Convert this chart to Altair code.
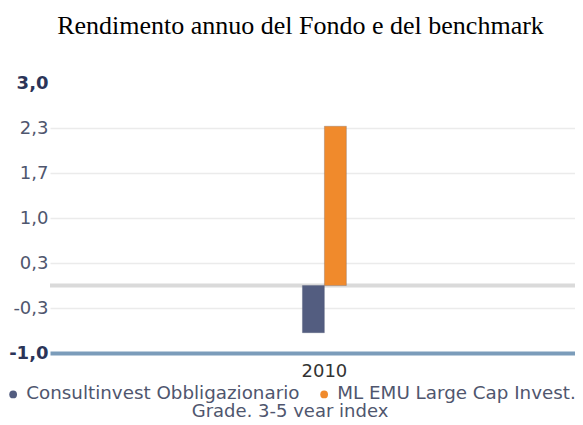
import altair as alt
import pandas as pd

# ---- data ----
years = ["2010"]
series = ["Consultinvest Obbligazionario", "ML EMU Large Cap Invest. Grade, 3-5 year index"]
values = [-0.70, 2.36]
colors = ["#535d80", "#f08a2c"]
y_ticks = [-1.0, -1 / 3, 1 / 3, 1.0, 5 / 3, 7 / 3, 3.0]
y_labels = ["-1,0", "-0,3", "0,3", "1,0", "1,7", "2,3", "3,0"]
title_text = "Rendimento annuo del Fondo e del benchmark"
legend_tail = "Grade, 3-5 year index"

df = pd.DataFrame({"year": [years[0]] * len(series), "series": series, "value": values})
zero_df = pd.DataFrame({"z": [0.0]})

label_expr = " : ".join(
    f"abs(datum.value - ({v})) < 0.01 ? '{l}'" for v, l in zip(y_ticks, y_labels)
) + " : ''"
edge = "(datum.value < -0.9 || datum.value > 2.9)"

FONT = "DejaVu Sans"
LABEL_COL = "#4f566e"

W = 525
y_scale = alt.Scale(domain=[-1, 3], nice=False, zero=False)
y_axis = alt.Axis(
    values=y_ticks,
    labelExpr=label_expr,
    labelFont=FONT,
    labelFontSize=18,
    labelColor=alt.expr(f"{edge} ? '#2b3458' : '{LABEL_COL}'"),
    labelFontWeight=alt.expr(f"{edge} ? 'bold' : 'normal'"),
    labelPadding=2,
    ticks=False,
    domain=False,
    grid=True,
    gridColor="#ebebeb",
    gridWidth=1.5,
    gridOpacity=alt.expr(f"{edge} ? 0 : 1"),
)

bars = alt.Chart(df).mark_bar(stroke="#3b4462", strokeWidth=0.4, strokeOpacity=0.6).encode(
    x=alt.X(
        "year:N",
        title=None,
        scale=alt.Scale(paddingInner=0, paddingOuter=1, align=0.534),
        axis=alt.Axis(
            labelAngle=0,
            labelFont=FONT,
            labelFontSize=18,
            labelColor="#333333",
            labelPadding=9,
            ticks=False,
            domainColor="#7b9cba",
            domainWidth=4,
            grid=False,
        ),
    ),
    xOffset=alt.XOffset(
        "series:N",
        sort=series,
        scale=alt.Scale(paddingInner=0, paddingOuter=0, range=[65.5, 109.5]),
    ),
    y=alt.Y("value:Q", title=None, scale=y_scale, axis=y_axis),
    color=alt.Color(
        "series:N",
        sort=series,
        scale=alt.Scale(domain=series, range=colors),
        legend=alt.Legend(
            orient="none",
            legendX=-46,
            legendY=302,
            direction="horizontal",
            title=legend_tail,
            titleOrient="bottom",
            titleAnchor="middle",
            titleFont=FONT,
            titleFontSize=18,
            titleFontWeight="normal",
            titleColor=LABEL_COL,
            titlePadding=0,
            titleLimit=800,
            labelFont=FONT,
            labelFontSize=18.3,
            labelColor=LABEL_COL,
            labelOffset=4,
            labelLimit=600,
            labelExpr=f"replace(datum.label, ' {legend_tail}', '')",
            columnPadding=15,
            symbolType="circle",
            symbolSize=60,
            symbolStrokeWidth=0,
            padding=0,
        ),
    ),
)

zero_line = alt.Chart(zero_df).mark_rule(color="#dadada", strokeWidth=4).encode(
    y=alt.Y("z:Q", scale=y_scale, axis=y_axis)
)

chart = (
    alt.layer(zero_line, bars)
    .properties(
        width=W,
        height=270,
        padding={"left": 42, "top": 75, "right": 0, "bottom": 64},
        autosize=alt.AutoSizeParams(type="none"),
        title=alt.TitleParams(
            title_text,
            font="Liberation Serif",
            fontSize=26,
            fontWeight="normal",
            color="#000000",
            anchor="middle",
            offset=35,
            dx=-12,
        ),
        background="white",
    )
    .configure_view(stroke=None)
)

chart.save("out.html", embed_options={"renderer": "svg", "actions": False})
